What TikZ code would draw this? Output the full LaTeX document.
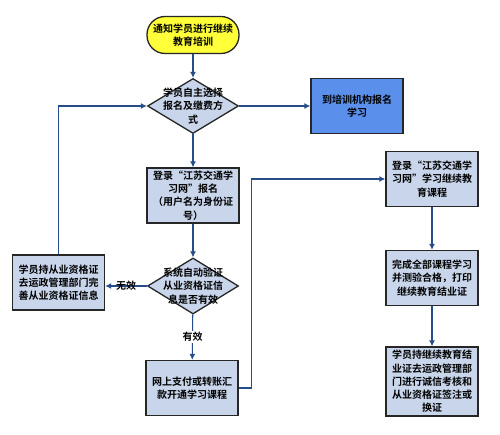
\documentclass[tikz,border=0pt]{standalone}
\usepackage{fontspec}
\newfontfamily\cjk{Noto Sans CJK SC}[BoldFont={Noto Sans CJK SC Bold}]
\usetikzlibrary{positioning, arrows.meta, shapes.geometric}
\definecolor{flowline}{HTML}{274D88}
\definecolor{boxfill}{HTML}{C8D5EA}
\definecolor{bluefill}{HTML}{5A90EC}
\definecolor{startfill}{HTML}{FFFF3A}
\begin{document}
\begin{tikzpicture}[x=1pt,y=1pt,yscale=-1,xscale=1,
        every node/.style={font=\cjk\bfseries\fontsize{10}{13.3}\selectfont},
        stepbox/.style={draw=black!85, line width=1.3pt, fill=boxfill, minimum width=92pt, minimum height=55pt, text width=86pt, align=center, inner sep=2pt},
        decision/.style={diamond, draw=black!85, line width=1.3pt, fill=boxfill, minimum width=91pt, minimum height=55pt, inner sep=0pt},
        flow/.style={draw=flowline, line width=1.1pt, -{Latex[length=6pt,width=6pt]}}]
        \useasboundingbox (0,0) rectangle (500,435);
        \node [draw=black!85, line width=1.3pt, fill=startfill, rounded corners=18pt, minimum width=92pt, minimum height=37pt, align=center, inner sep=2pt] (start) at (193,35) {通知学员进行继续\\教育培训};
        \node [decision] (d1) at (193,106) {};
        \node [align=center] (d1text) at (193,106) {学员自主选择\\报名及缴费方\\式};
        \node [stepbox, fill=bluefill] (center) at (357,106) {到培训机构报名\\学习};
        \node [stepbox] (login) at (193,195.5) {登录“江苏交通学\\习网”报名\\（用户名为身份证\\号）};
        \node [decision, minimum height=56pt] (d2) at (193,286) {};
        \node [align=center] (d2text) at (193,286) {系统自动验证\\从业资格证信\\息是否有效};
        \node [stepbox] (left) at (58.5,282.5) {学员持从业资格证\\去运政管理部门完\\善从业资格证信息};
        \node [stepbox] (pay) at (192,388) {网上支付或转账汇\\款开通学习课程};
        \node [stepbox] (r1) at (432,179) {登录“江苏交通学\\习网”学习继续教\\育课程};
        \node [stepbox] (r2) at (432,278) {完成全部课程学习\\并测验合格，打印\\继续教育结业证};
        \node [stepbox, minimum height=69pt] (r3) at (432,381.5) {学员持继续教育结\\业证去运政管理部\\门进行诚信考核和\\从业资格证签注或\\换证};
        \draw [flow] (start) -- (d1);
        \draw [flow] (d1) -- (center);
        \draw [flow] (d1) -- (login);
        \draw [flow] (login) -- (d2);
        \draw [flow] (d2.west) -- node [inner sep=1pt] (invalid) {无效} (left.east |- d2.west);
        \draw [flow] (d2) -- node [fill=white, inner sep=1pt] (valid) {有效} (pay);
        \draw [flow] (left.north) |- (d1.west);
        \draw [flow] (pay.east) -- ++(13,0) |- (r1.west);
        \draw [flow] (r1) -- (r2);
        \draw [flow] (r2) -- (r3);
    \end{tikzpicture}
\end{document}
